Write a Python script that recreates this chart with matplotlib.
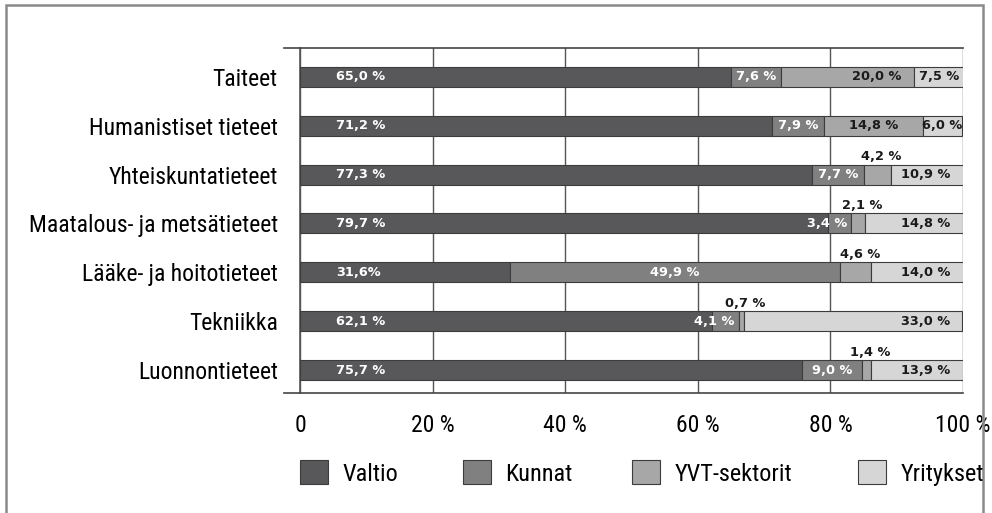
import numpy as np
import matplotlib.pyplot as plt
from matplotlib.patches import Rectangle, Patch

categories = ["Taiteet", "Humanistiset tieteet", "Yhteiskuntatieteet",
              "Maatalous- ja metsätieteet", "Lääke- ja hoitotieteet",
              "Tekniikka", "Luonnontieteet"]
series = ["Valtio", "Kunnat", "YVT-sektorit", "Yritykset"]
valtio = [65.0, 71.2, 77.3, 79.7, 31.6, 62.1, 75.7]
kunnat = [7.6, 7.9, 7.7, 3.4, 49.9, 4.1, 9.0]
yvt = [20.0, 14.8, 4.2, 2.1, 4.6, 0.7, 1.4]
yritykset = [7.5, 6.0, 10.9, 14.8, 14.0, 33.0, 13.9]
xticks = [0, 20, 40, 60, 80, 100]
xticklabels = ["0", "20 %", "40 %", "60 %", "80 %", "100 %"]

colors = ["#58585b", "#808080", "#a7a7a7", "#d6d6d6"]
cond = ["Roboto Condensed", "Roboto", "DejaVu Sans"]
boldf = ["DejaVu Sans"]

fig = plt.figure(figsize=(9.92, 5.13), dpi=100)
ax = fig.add_axes([300/992, 1-393/513, 663/992, 345/513])

data = [valtio, kunnat, yvt, yritykset]
y = np.arange(len(categories))
h = 0.41
left = np.zeros(len(categories))
for vals, col, name in zip(data, colors, series):
    ax.barh(y, vals, left=left, height=h, color=col, edgecolor="#3c3c3c",
            linewidth=0.8, label=name, zorder=3)
    left += np.array(vals)

def fmt(v, space=True):
    s = f"{v:.1f}".replace(".", ",")
    return s + (" %" if space else "%")

tk = dict(fontsize=9.3, fontweight="bold", family=boldf, va="center", zorder=5,
          annotation_clip=False, textcoords="offset points")
dark = "#1a1a1a"
for i in range(len(categories)):
    starts = np.cumsum([0] + [d[i] for d in data])
    # Valtio
    ax.annotate(fmt(valtio[i], space=(i != 4)), (0, y[i]), xytext=(26, 0),
                ha="left", color="white", **tk)
    # Kunnat
    k0, k1 = starts[1], starts[2]
    if kunnat[i] < 5:
        ax.annotate(fmt(kunnat[i]), (k1, y[i]), xytext=(-3, 0),
                    ha="right", color="white", **tk)
    else:
        ax.annotate(fmt(kunnat[i]), ((k0 + k1) / 2, y[i]), xytext=(0, 0),
                    ha="center", color="white", **tk)
    # YVT
    v0, v1 = starts[2], starts[3]
    if yvt[i] < 5:
        ax.annotate(fmt(yvt[i]), ((v0 + v1) / 2, y[i] - h / 2), xytext=(3, 1),
                    ha="center", color=dark, **{**tk, "va": "bottom"})
    elif yvt[i] >= 18:
        ax.annotate(fmt(yvt[i]), (v1, y[i]), xytext=(-9, 0),
                    ha="right", color=dark, **tk)
    else:
        ax.annotate(fmt(yvt[i]), ((v0 + v1) / 2, y[i]), xytext=(0, 0),
                    ha="center", color=dark, **tk)
    # Yritykset
    r0, r1 = starts[3], starts[4]
    if yritykset[i] < 9:
        ax.annotate(fmt(yritykset[i]), ((r0 + r1) / 2, y[i]), xytext=(0, 0),
                    ha="center", color=dark, **tk)
    else:
        ax.annotate(fmt(yritykset[i]), (min(r1, 100), y[i]), xytext=(-9, 0),
                    ha="right", color=dark, **tk)

ax.set_xlim(0, 100)
ax.set_ylim(len(categories) - 1 + 0.47, -0.59)
ax.set_yticks(y)
ax.set_yticklabels(categories, fontsize=17, family=cond)
ax.set_xticks(xticks)
ax.set_xticklabels(xticklabels, fontsize=17, family=cond)
ax.tick_params(axis="y", length=0, pad=16)
ax.tick_params(axis="x", length=0, pad=15)
for s in ["top", "right", "bottom"]:
    ax.spines[s].set_visible(False)
ax.spines["left"].set_color("#555555")
ax.spines["left"].set_linewidth(1.2)
ax.xaxis.grid(True, color="#555555", linewidth=1.0, zorder=0)
for yy in ax.get_ylim():
    ax.axhline(yy, xmin=-0.024, xmax=1, color="#444444", linewidth=1.2,
               clip_on=False, zorder=4)

# legend entries at fixed spots, as in the original layout
legend_x = [300, 463, 632, 858]
for name, col, lx in zip(series, colors, legend_x):
    handle = Patch(facecolor=col, edgecolor="#3c3c3c", linewidth=0.8)
    fig.legend([handle], [name], loc="center left",
               bbox_to_anchor=(lx/992, 1-473/513), frameon=False,
               prop={"family": cond, "size": 17.5},
               handlelength=1.15, handleheight=1.15, handletextpad=0.6,
               borderaxespad=0, borderpad=0)

fig.patches.append(Rectangle((6/992, -0.05), 977/992, 1.05 - 5/513,
                             transform=fig.transFigure, fill=False,
                             edgecolor="#8a8a8a", linewidth=1.8))

fig.savefig("out.png", dpi=100)
